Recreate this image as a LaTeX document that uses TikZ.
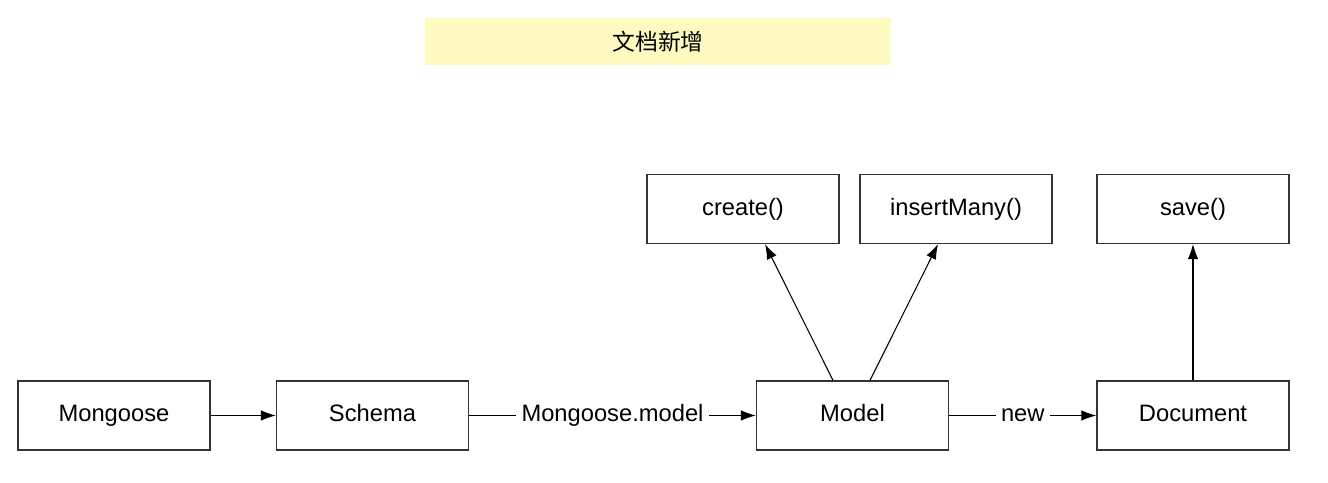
\documentclass[tikz,border=0pt]{standalone}
\usepackage{fontspec}
\setmainfont{Liberation Sans}
\newfontfamily\cjk{Noto Sans CJK SC}
\usetikzlibrary{arrows.meta, positioning, calc}
\definecolor{BoxLine}{HTML}{333333}
\definecolor{TitleFill}{HTML}{FFFAC0}
\tikzset{
    box/.style={
        draw=BoxLine,
        fill=white,
        line width=0.7pt,
        minimum width=3.84cm,
        minimum height=1.38cm,
        text height=1.38ex,
        text depth=0pt,
        font=\fontsize{13.5}{16}\selectfont,
        align=center,
        inner sep=2pt
    },
    titlebox/.style={
        fill=TitleFill,
        minimum width=9.32cm,
        minimum height=0.94cm,
        font=\fontsize{13}{16}\selectfont\cjk
    },
    arrow/.style={
        -{Latex[length=3mm,width=2.1mm]},
        line width=0.6pt,
        black
    },
    edgelabel/.style={
        fill=white,
        inner sep=3pt,
        text height=1.38ex,
        text depth=0pt,
        font=\fontsize{13.5}{16}\selectfont
    }
}
\begin{document}
\begin{tikzpicture}
    \useasboundingbox (0,0) rectangle (26.56,9.64);

    % Title
    \node[titlebox] (title) at (13.16,8.81) {文档新增};

    % Bottom row
    \node[box] (mongoose) at (2.28,1.33) {Mongoose};
    \node[box] (schema) at (7.45,1.33) {Schema};
    \node[box] (model) at (17.05,1.33) {Model};
    \node[box] (document) at (23.86,1.33) {Document};

    % Methods
    \node[box] (create) at (14.86,5.46) {create()};
    \node[box] (insertmany) at (19.12,5.46) {insertMany()};
    \node[box] (save) at (23.86,5.46) {save()};

    % Connectors
    \draw[arrow] (mongoose) -- (schema);
    \draw[arrow] (schema) -- node[edgelabel] {Mongoose.model} (model);
    \draw[arrow] (model) -- node[edgelabel] {new} (document);
    \draw[arrow] ([xshift=-0.39cm]model.north) -- ([xshift=0.44cm]create.south);
    \draw[arrow] ([xshift=0.35cm]model.north) -- ([xshift=-0.36cm]insertmany.south);
    \draw[arrow] (document) -- (save);
\end{tikzpicture}
\end{document}
